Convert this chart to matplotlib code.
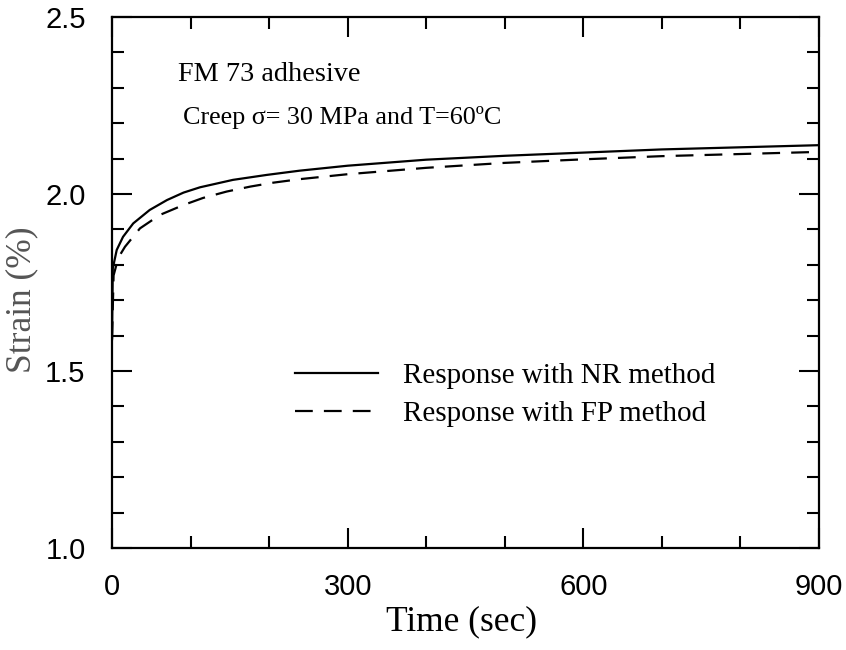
import matplotlib
matplotlib.use('Agg')
import matplotlib.pyplot as plt
from matplotlib.ticker import MultipleLocator, FormatStrFormatter

# creep strain
t_nr = [0, 1, 6, 14, 27, 48, 70, 91, 112, 154, 197, 239, 300, 400, 500, 600, 700, 800, 900]
strain_nr = [1.59, 1.79, 1.842, 1.879, 1.917, 1.955, 1.983, 2.004, 2.019, 2.040, 2.054,
             2.066, 2.080, 2.097, 2.108, 2.117, 2.126, 2.132, 2.138]
t_fp = [0, 2, 8, 16.5, 35.6, 61, 91, 116, 146, 176, 205, 239, 300, 400, 500, 600, 700, 800, 900]
strain_fp = [1.59, 1.77, 1.82, 1.851, 1.903, 1.941, 1.969, 1.989, 2.007, 2.021, 2.032,
             2.042, 2.056, 2.074, 2.088, 2.098, 2.107, 2.113, 2.119]
labels = ['Response with NR method', 'Response with FP method']

serif = ['Liberation Serif', 'DejaVu Serif']
sans = ['Liberation Sans', 'DejaVu Sans']

fig = plt.figure(figsize=(8.46, 6.5), dpi=100)
ax = fig.add_axes([0.1324, 0.1569, 0.8357, 0.8169])

ax.plot(t_nr, strain_nr, color='black', lw=1.6, label=labels[0])
ax.plot(t_fp, strain_fp, color='black', lw=1.6, dashes=(8, 5), label=labels[1])

ax.set_xlim(0, 900)
ax.set_ylim(1.0, 2.5)
ax.xaxis.set_major_locator(MultipleLocator(300))
ax.xaxis.set_minor_locator(MultipleLocator(100))
ax.yaxis.set_major_locator(MultipleLocator(0.5))
ax.yaxis.set_minor_locator(MultipleLocator(0.1))
ax.yaxis.set_major_formatter(FormatStrFormatter('%.1f'))

ax.tick_params(which='both', direction='in', top=True, right=True, width=1.5, color='black')
ax.tick_params(which='major', length=14.5)
ax.tick_params(which='minor', length=8.5)
ax.tick_params(axis='y', which='major', pad=19)
ax.tick_params(axis='x', which='major', pad=18)
for lab in ax.get_xticklabels() + ax.get_yticklabels():
    lab.set_family(sans)
    lab.set_fontsize(21)
for sp in ax.spines.values():
    sp.set_linewidth(1.6)

ax.set_xlabel('Time (sec)', family=serif, fontsize=25.5)
ax.xaxis.label.set_verticalalignment('center')
ax.xaxis.set_label_coords(0.494, -0.139)
ax.set_ylabel('Strain (%)', family=serif, fontsize=25.5, color='#555555')
ax.yaxis.label.set_verticalalignment('center')
ax.yaxis.set_label_coords(-0.127, 0.467)

ax.text(0.0934, 0.891, 'FM 73 adhesive', transform=ax.transAxes, family=serif,
        fontsize=20.3, va='center', ha='left')
ax.text(0.100, 0.810, 'Creep σ= 30 MPa and T=60ºC', transform=ax.transAxes, family=serif,
        fontsize=18.8, va='center', ha='left')

ax.legend(loc='center left', bbox_to_anchor=(0.259, 0.289), frameon=False,
          prop={'family': serif, 'size': 21}, handlelength=2.83, handletextpad=0.86,
          labelspacing=0.4, borderpad=0, borderaxespad=0)

fig.savefig('out.png', dpi=100)
